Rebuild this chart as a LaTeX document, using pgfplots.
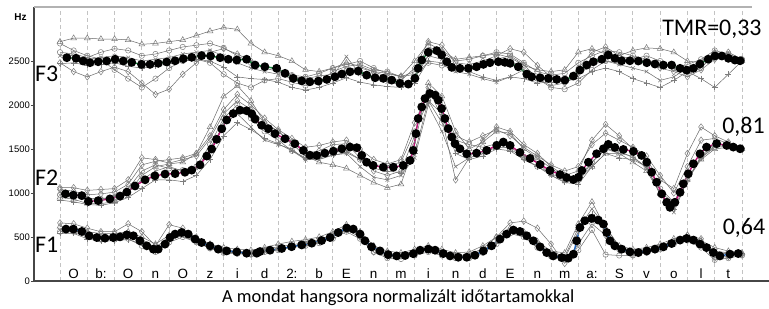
\documentclass[border=0pt]{standalone}
\usepackage{pgfplots}
\pgfplotsset{compat=1.18}
\usepackage{pgfplotstable}
\usepackage{fontspec}
\setmainfont{Carlito}
\newfontfamily\arialf{Liberation Sans}

\definecolor{grayln}{RGB}{105,105,105}
\definecolor{graymk}{RGB}{125,125,125}
\definecolor{gridc}{RGB}{195,195,195}
\definecolor{spine}{RGB}{70,70,70}
\definecolor{fthreec}{RGB}{20,140,60}
\definecolor{ftwoc}{RGB}{190,20,120}
\definecolor{fonec}{RGB}{30,100,190}

\pgfplotstableread{
x T D C P X Q
0 2720 2480 2700 2470 2560 2600
0.5 2760 2380 2620 2480 2560 2580
1 2760 2320 2560 2450 2520 2540
1.5 2750 2380 2520 2460 2540 2600
2 2750 2430 2400 2480 2560 2640
2.5 2740 2380 2300 2440 2540 2620
3 2690 2250 2200 2420 2500 2560
3.5 2700 2120 2300 2440 2520 2580
4 2720 2180 2420 2470 2540 2620
4.5 2740 2350 2500 2500 2580 2660
5 2790 2480 2520 2520 2600 2680
5.5 2840 2600 2480 2500 2620 2700
6 2880 2640 2350 2430 2560 2650
6.5 2860 2580 2250 2320 2480 2560
7 2700 2500 2200 2300 2420 2480
7.5 2600 2420 2280 2290 2380 2440
8 2560 2380 2300 2260 2350 2400
8.5 2500 2330 2260 2200 2300 2340
9 2400 2300 2220 2170 2260 2320
9.5 2380 2330 2260 2200 2280 2360
10 2420 2350 2380 2250 2330 2420
10.5 2480 2400 2440 2310 2550 2460
11 2440 2420 2460 2260 2350 2500
11.5 2380 2380 2400 2230 2300 2420
12 2360 2320 2380 2210 2260 2360
12.5 2330 2280 2320 2200 2240 2320
13 2500 2420 2350 2250 2300 2380
13.5 2700 2720 2480 2500 2560 2660
14 2620 2680 2450 2480 2520 2600
14.5 2520 2480 2400 2420 2380 2500
15 2540 2460 2420 2380 2350 2520
15.5 2560 2500 2470 2320 2300 2560
16 2580 2560 2520 2280 2260 2600
16.5 2540 2640 2560 2320 2320 2580
17 2450 2600 2460 2300 2400 2480
17.5 2400 2450 2300 2250 2300 2380
18 2380 2320 2200 2260 2220 2340
18.5 2400 2250 2180 2270 2250 2360
19 2600 2420 2250 2300 2350 2480
19.5 2640 2600 2400 2380 2460 2560
20 2580 2660 2500 2420 2500 2620
20.5 2560 2560 2480 2380 2460 2600
21 2620 2520 2520 2300 2420 2560
21.5 2650 2480 2560 2250 2380 2520
22 2640 2420 2500 2200 2280 2460
22.5 2600 2380 2420 2280 2320 2420
23 2500 2320 2350 2380 2420 2460
23.5 2480 2400 2420 2300 2500 2520
24 2600 2520 2580 2200 2560 2620
24.5 2560 2600 2560 2350 2520 2580
25 2500 2520 2510 2500 2490 2520
}\FthreeG

\pgfplotstableread{
x T D C P X Q
0 950 1060 980 920 1010 1040
0.5 930 1060 960 900 990 1020
1 880 1030 930 870 940 980
1.5 880 1040 930 860 935 990
2 900 1050 950 890 960 1010
2.5 1000 1150 1050 950 1020 1100
3 1200 1400 1250 1050 1150 1320
3.5 1300 1380 1320 1150 1250 1360
4 1330 1340 1280 1150 1300 1380
4.5 1350 1380 1260 1130 1250 1400
5 1450 1420 1300 1200 1280 1450
5.5 1750 1620 1550 1380 1500 1650
6 2100 1900 1850 1650 1780 1950
6.5 2220 2050 2000 1800 1900 2120
7 2050 1950 1850 1720 1750 2000
7.5 1800 1800 1700 1620 1600 1850
8 1700 1700 1600 1560 1550 1720
8.5 1560 1580 1480 1480 1500 1620
9 1420 1450 1400 1380 1380 1520
9.5 1350 1480 1420 1400 1380 1540
10 1320 1550 1460 1430 1430 1580
10.5 1280 1560 1480 1460 1450 1600
11 1200 1400 1380 1380 1300 1500
11.5 1120 1250 1320 1280 1180 1380
12 1060 1200 1310 1250 1150 1330
12.5 1100 1250 1350 1230 1200 1380
13 1550 1650 1700 1450 1400 1800
13.5 2250 2200 2050 2050 2000 2150
14 2100 1850 1800 1900 1700 1950
14.5 1700 1150 1600 1450 1300 1650
15 1500 1400 1550 1380 1400 1580
15.5 1580 1600 1520 1420 1450 1650
16 1700 1750 1560 1500 1520 1720
16.5 1680 1700 1500 1480 1520 1650
17 1500 1550 1400 1380 1420 1520
17.5 1400 1450 1300 1300 1350 1420
18 1280 1300 1220 1200 1200 1320
18.5 1180 1200 1150 1120 1130 1250
19 1150 1250 1180 1100 1130 1300
19.5 1300 1600 1350 1300 1350 1550
20 1450 1780 1500 1450 1500 1680
20.5 1450 1650 1480 1400 1450 1600
21 1350 1500 1400 1380 1420 1520
21.5 1250 1380 1300 1300 1280 1420
22 1000 1150 1050 980 1000 1200
22.5 900 1050 900 820 780 1000
23 1150 1450 1150 1150 1150 1300
23.5 1380 1750 1400 1400 1420 1600
24 1500 1650 1520 1540 1560 1620
24.5 1520 1580 1530 1530 1540 1560
25 1500 1510 1500 1490 1500 1510
}\FtwoG

\pgfplotstableread{
x T D C P X
0 620 660 560 540 580
0.5 600 650 560 540 570
1 560 600 500 480 530
1.5 540 560 470 450 500
2 540 560 470 460 510
2.5 560 650 480 470 540
3 500 560 400 420 470
3.5 420 400 330 340 380
4 520 640 440 460 500
4.5 560 600 500 520 570
5 500 480 440 450 490
5.5 420 380 370 380 410
6 380 330 320 330 350
6.5 360 320 310 320 340
7 350 310 300 310 330
7.5 380 350 330 340 360
8 420 370 350 360 390
8.5 450 390 380 390 410
9 470 420 400 410 440
9.5 500 460 430 440 470
10 560 520 480 500 530
10.5 640 580 560 590 620
11 560 500 480 520 540
11.5 400 330 330 360 380
12 340 280 260 300 310
12.5 320 290 250 290 300
13 360 330 290 330 340
13.5 400 370 330 350 380
14 360 330 290 310 330
14.5 320 290 260 280 290
15 330 300 260 280 290
15.5 400 370 320 330 350
16 500 500 420 430 450
16.5 600 660 540 550 580
17 560 680 500 520 550
17.5 450 600 380 410 430
18 340 420 280 290 310
18.5 320 200 250 260 280
19 650 420 350 560 600
19.5 900 650 580 760 820
20 600 520 300 580 620
20.5 400 350 290 380 390
21 360 300 290 330 340
21.5 380 330 320 350 360
22 420 380 360 390 400
22.5 480 450 420 450 460
23 520 520 460 500 500
23.5 460 480 380 450 430
24 380 260 240 340 320
24.5 340 280 260 320 310
25 320 300 290 310 310
}\FoneG

\pgfplotsset{
 gbase/.style={color=grayln, line width=0.5bp, mark options={solid, fill=none, draw=graymk, line width=0.5bp}},
 gT/.style={gbase, mark=triangle, mark size=3.3bp},
 gD/.style={gbase, mark=diamond, mark size=3.3bp},
 gC/.style={gbase, mark=o, mark size=2.7bp},
 gP/.style={gbase, mark=+, mark size=3bp},
 gX/.style={gbase, mark=x, mark size=2.6bp},
 mean/.style={line width=1.4bp, mark=*, mark size=3.7bp, mark options={fill=black, draw=black}},
}

\begin{document}
\begin{tikzpicture}
\useasboundingbox (0,0) rectangle (769bp,309bp);
\begin{axis}[
 at={(34bp,28bp)}, anchor=south west, scale only axis,
 width=735bp, height=274bp,
 xmin=-0.953, xmax=25.99, ymin=0, ymax=3114,
 axis x line*=bottom, axis y line*=left,
 axis line style={spine, line width=1.6bp},
 xtick={0,...,25}, xticklabels={}, xmajorgrids,
 xtick style={draw=none},
 grid style={gridc, line width=0.8bp, dash pattern=on 4bp off 3bp},
 ytick={0,500,1000,1500,2000,2500}, yticklabels={0,500,1000,1500,2000,2500},
 yticklabel style={font=\arialf\fontsize{9.5}{10}\selectfont, inner sep=1bp},
 ytick style={spine, line width=0.8bp},
 tick align=outside, major tick length=3bp,
 clip=false,
]
% individual speakers (grey)
\addplot[gT] table[x=x,y=T] {\FthreeG};
\addplot[gD] table[x=x,y=D] {\FthreeG};
\addplot[gC] table[x=x,y=C] {\FthreeG};
\addplot[gP] table[x=x,y=P] {\FthreeG};
\addplot[gX] table[x=x,y=X] {\FthreeG};
\addplot[gC] table[x=x,y=Q] {\FthreeG};
\addplot[gT] table[x=x,y=T] {\FtwoG};
\addplot[gD] table[x=x,y=D] {\FtwoG};
\addplot[gC] table[x=x,y=C] {\FtwoG};
\addplot[gP] table[x=x,y=P] {\FtwoG};
\addplot[gX] table[x=x,y=X] {\FtwoG};
\addplot[gD] table[x=x,y=Q] {\FtwoG};
\addplot[gT] table[x=x,y=T] {\FoneG};
\addplot[gD] table[x=x,y=D] {\FoneG};
\addplot[gC] table[x=x,y=C] {\FoneG};
\addplot[gP] table[x=x,y=P] {\FoneG};
\addplot[gX] table[x=x,y=X] {\FoneG};
% F3 mean
\addplot[mean, fthreec] coordinates {
(0.25,2538) (0.59,2531) (0.85,2500) (1.10,2481) (1.40,2492) (1.71,2500) (2.02,2520) (2.32,2500) (2.63,2485) (2.99,2462) (3.30,2462) (3.60,2474) (3.91,2489) (4.22,2503) (4.52,2526) (4.83,2542) (5.19,2561) (5.52,2557) (5.87,2538) (6.17,2520) (6.48,2511) (6.84,2520) (7.15,2454)
(7.51,2435) (7.94,2417) (8.25,2360) (8.55,2303) (8.86,2275) (9.16,2264) (9.47,2272) (9.78,2291) (10.08,2321) (10.33,2352) (10.63,2378) (10.93,2386) (11.24,2340) (11.55,2310) (11.85,2303) (12.16,2283) (12.46,2246) (12.77,2238) (13.01,2303) (13.13,2417) (13.26,2511) (13.50,2599) (13.81,2618) (13.99,2569) (14.18,2492) (14.36,2428) (14.66,2417) (14.97,2417) (15.27,2435) (15.52,2462) (15.76,2481) (16.07,2492) (16.31,2485)
(16.50,2474) (16.80,2435) (17.11,2352) (17.29,2321) (17.60,2310) (17.90,2303) (18.21,2291) (18.51,2283) (18.82,2329) (19.06,2397) (19.31,2454) (19.55,2492) (19.86,2520) (20.10,2569) (20.34,2531) (20.59,2503) (20.89,2503) (21.20,2500) (21.51,2481) (21.81,2466) (22.12,2454) (22.42,2454) (22.73,2417) (22.97,2397) (23.22,2417) (23.46,2466) (23.76,2520) (24.01,2557) (24.26,2557) (24.50,2531) (24.74,2511) (24.93,2503)
};
% F2 mean
\addplot[mean, ftwoc] coordinates {
(0.20,990) (0.49,975) (0.80,970) (1.04,905) (1.40,913) (1.83,933) (2.20,965) (2.45,1010) (2.75,1080) (3.12,1150) (3.48,1195) (3.85,1215) (4.22,1220) (4.58,1236) (4.83,1260) (5.13,1320) (5.38,1420) (5.56,1500) (5.74,1610) (5.93,1730) (6.11,1830) (6.35,1903) (6.60,1941) (6.84,1935) (7.03,1900) (7.15,1840) (7.39,1770) (7.64,1731) (7.88,1674) (8.25,1617) (8.61,1560) (8.92,1484) (9.16,1430) (9.41,1427) (9.71,1453) (10.02,1476) (10.33,1503) (10.63,1522) (10.88,1515) (11.06,1427) (11.24,1350) (11.48,1313) (11.85,1293) (12.22,1293) (12.58,1313) (12.83,1370) (12.95,1484) (13.05,1675) (13.13,1846) (13.26,1978) (13.38,2074) (13.56,2131) (13.75,2112) (13.87,2055) (13.99,1960) (14.11,1846) (14.23,1732) (14.36,1636) (14.48,1561) (14.66,1503) (14.91,1446) (15.27,1453) (15.64,1484) (16.01,1541) (16.25,1579) (16.50,1541) (16.86,1461) (17.23,1393) (17.60,1324) (17.96,1256) (18.33,1210) (18.57,1176) (18.82,1153) (19.00,1179) (19.13,1256) (19.37,1350) (19.67,1446) (19.92,1503) (20.10,1553) (20.34,1518) (20.65,1495) (21.02,1473) (21.32,1427) (21.51,1350) (21.69,1236) (21.87,1122) (22.06,990) (22.24,894) (22.36,837) (22.54,894) (22.73,1008) (22.85,1104) (23.03,1218) (23.22,1332) (23.46,1446) (23.70,1522) (24.07,1561) (24.44,1541) (24.68,1522) (24.93,1503)
};
% F1 mean
\addplot[mean, fonec] coordinates {
(0.22,590) (0.49,590) (0.80,563) (1.07,514) (1.35,494) (1.65,487) (1.95,494) (2.20,502) (2.45,525) (2.69,514) (2.93,457) (3.18,400) (3.42,362) (3.60,362) (3.85,419) (4.03,494) (4.22,533) (4.46,551) (4.70,533) (4.95,476) (5.19,437) (5.50,400) (5.80,362) (6.11,342) (6.48,331) (6.84,316) (7.21,316) (7.33,335) (7.70,350) (8.13,370) (8.49,390) (8.86,410) (9.23,430) (9.59,460) (9.90,494) (10.20,551) (10.51,602) (10.75,590) (11.00,533) (11.18,457) (11.42,388) (11.73,342) (12.03,300) (12.34,285) (12.65,290) (12.95,310) (13.20,350) (13.50,362) (13.75,350) (14.05,312) (14.30,285) (14.60,270) (14.91,270) (15.21,293) (15.52,342) (15.82,400) (16.13,476) (16.37,533) (16.62,579) (16.86,563) (17.11,514) (17.35,457) (17.60,388) (17.84,323) (18.08,285) (18.39,266) (18.63,259) (18.82,305) (18.94,457) (19.06,608) (19.24,685) (19.49,711) (19.73,693) (19.92,647) (20.04,551) (20.16,457) (20.34,400) (20.59,362) (20.89,331) (21.20,323) (21.51,342) (21.81,362) (22.12,388) (22.42,426) (22.73,465) (22.97,483) (23.22,465) (23.46,419) (23.70,380) (23.95,323) (24.19,285) (24.56,305) (24.86,312)
};
% top frame line
\draw[gray!60, line width=1.6bp] (rel axis cs:0,1) -- (axis cs:25.37,3114);
% Hz label
\node[font=\arialf\bfseries\fontsize{10}{11}\selectfont] at (axis cs:-1.45,3000) {Hz};
% formant labels
\node[anchor=base west, inner sep=0pt, font=\fontsize{24}{24}\selectfont] at (axis cs:-0.92,2264) {F3};
\node[anchor=base west, inner sep=0pt, font=\fontsize{24}{24}\selectfont] at (axis cs:-0.92,1085) {F2};
\node[anchor=base west, inner sep=0pt, font=\fontsize{24}{24}\selectfont] at (axis cs:-0.92,323) {F1};
\node[anchor=base west, inner sep=0pt, font=\fontsize{24}{24}\selectfont] at (axis cs:22.07,2785) {TMR=0,33};
\node[anchor=base west, inner sep=0pt, font=\fontsize{24}{24}\selectfont] at (axis cs:24.27,1675) {0,81};
\node[anchor=base west, inner sep=0pt, font=\fontsize{24}{24}\selectfont] at (axis cs:24.29,530) {0,64};
% segment labels
\begin{scope}[every node/.style={anchor=base, inner sep=0pt, font=\arialf\fontsize{13.5}{14}\selectfont, yshift=2.5bp}]
\node at (axis cs:0.5,0) {O};
\node at (axis cs:1.5,0) {b:};
\node at (axis cs:2.5,0) {O};
\node at (axis cs:3.5,0) {n};
\node at (axis cs:4.5,0) {O};
\node at (axis cs:5.5,0) {z};
\node at (axis cs:6.5,0) {i};
\node at (axis cs:7.5,0) {d};
\node at (axis cs:8.5,0) {2:};
\node at (axis cs:9.5,0) {b};
\node at (axis cs:10.5,0) {E};
\node at (axis cs:11.5,0) {n};
\node at (axis cs:12.5,0) {m};
\node at (axis cs:13.5,0) {i};
\node at (axis cs:14.5,0) {n};
\node at (axis cs:15.5,0) {d};
\node at (axis cs:16.5,0) {E};
\node at (axis cs:17.5,0) {n};
\node at (axis cs:18.5,0) {m};
\node at (axis cs:19.5,0) {a:};
\node at (axis cs:20.5,0) {S};
\node at (axis cs:21.5,0) {v};
\node at (axis cs:22.5,0) {o};
\node at (axis cs:23.5,0) {l};
\node at (axis cs:24.5,0) {t};
\end{scope}
% x label
\node[anchor=base, inner sep=0pt, font=\fontsize{18.5}{18.5}\selectfont] at (axis cs:12.4,0) [yshift=-21bp] {A mondat hangsora normalizált időtartamokkal};
\end{axis}
\end{tikzpicture}
\end{document}
